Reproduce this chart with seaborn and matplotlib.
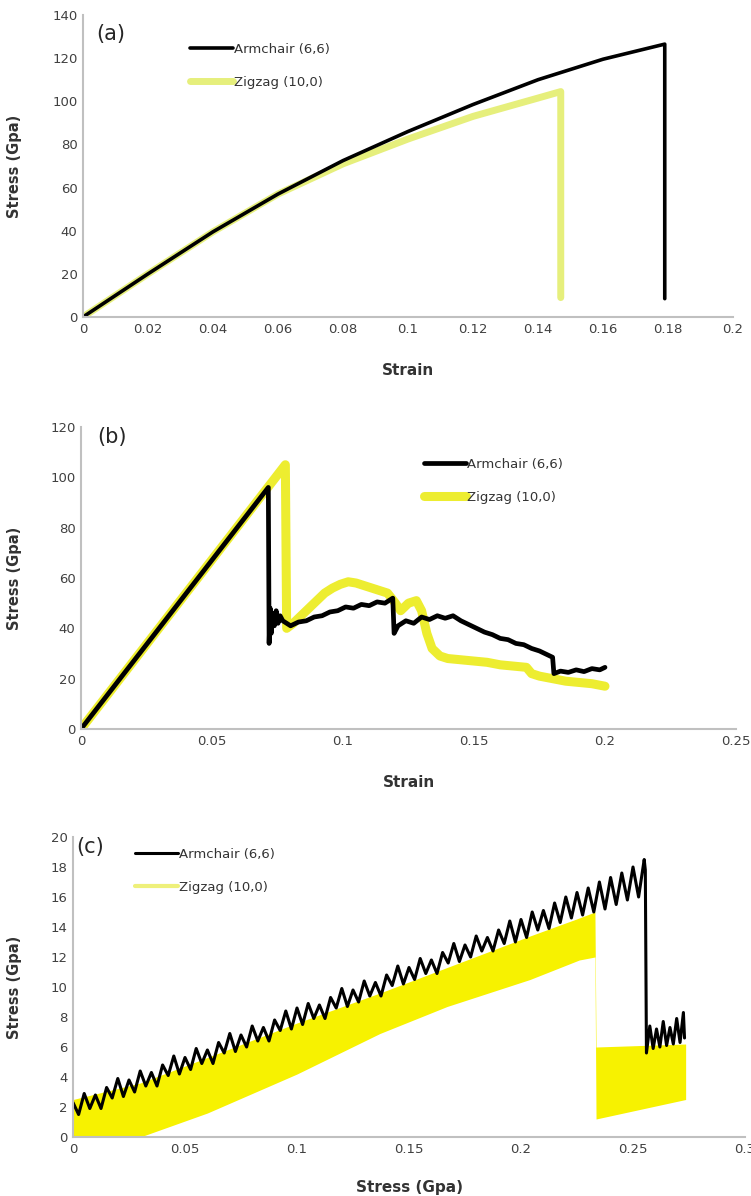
import matplotlib
matplotlib.use('Agg')
import matplotlib.pyplot as plt
import seaborn as sns

sns.set_style('white')
plt.rcParams['font.family'] = ['DejaVu Sans']

# --- data ---
labels = ['Armchair (6,6)', 'Zigzag (10,0)']

# (a) stress-strain, tension
a_arm_x = [0, 0.02, 0.04, 0.06, 0.08, 0.10, 0.12, 0.14, 0.16, 0.179, 0.179]
a_arm_y = [0, 20, 39.5, 57, 72.5, 86, 98.5, 110, 119.5, 126.5, 8.5]
a_zig_x = [0, 0.02, 0.04, 0.06, 0.08, 0.10, 0.12, 0.14, 0.147, 0.147]
a_zig_y = [0, 20, 39.5, 57, 71, 82.5, 93, 101.5, 104.5, 9]

# (b)
b_arm_x = [0, 0.0715, 0.0718, 0.0722, 0.0726, 0.073, 0.0738, 0.0745, 0.0752, 0.076, 0.077,
           0.080, 0.083, 0.086, 0.089, 0.092, 0.095, 0.098, 0.101, 0.104, 0.107, 0.110,
           0.113, 0.116, 0.119, 0.1195, 0.121, 0.124, 0.127, 0.130, 0.133, 0.136, 0.139,
           0.142, 0.145, 0.148, 0.151, 0.154, 0.157, 0.160, 0.163, 0.166, 0.169, 0.172,
           0.175, 0.178, 0.180, 0.1805, 0.183, 0.186, 0.189, 0.192, 0.195, 0.198, 0.200]
b_arm_y = [0, 96, 34, 48, 38, 46, 41, 47, 42, 45, 43,
           41, 42.5, 43, 44.5, 45, 46.5, 47, 48.5, 48, 49.5, 49,
           50.5, 50, 52, 38, 41, 43, 42, 44.5, 43.5, 45, 44,
           45, 43, 41.5, 40, 38.5, 37.5, 36, 35.5, 34, 33.5, 32,
           31, 29.5, 28.5, 22, 23, 22.5, 23.5, 22.8, 24, 23.5, 24.5]
b_zig_x = [0, 0.078, 0.0785, 0.081, 0.084, 0.087, 0.090, 0.093, 0.096, 0.099, 0.102,
           0.105, 0.108, 0.111, 0.114, 0.117, 0.120, 0.122, 0.125, 0.128, 0.130, 0.132,
           0.134, 0.137, 0.140, 0.145, 0.150, 0.155, 0.160, 0.165, 0.170, 0.172, 0.175,
           0.180, 0.185, 0.190, 0.195, 0.200]
b_zig_y = [0, 105, 40, 42, 45, 48, 51, 54, 56, 57.5, 58.5,
           58, 57, 56, 55, 54, 50, 47, 50, 51, 47, 38,
           32, 29, 28, 27.5, 27, 26.5, 25.5, 25, 24.5, 22, 21,
           20, 19, 18.5, 18, 17]

# (c)
c_arm_x = [0.0, 0.0025, 0.005, 0.0075, 0.01, 0.0125, 0.015, 0.0175, 0.02, 0.0225,
           0.025, 0.0275, 0.03, 0.0325, 0.035, 0.0375, 0.04, 0.0425, 0.045, 0.0475,
           0.05, 0.0525, 0.055, 0.0575, 0.06, 0.0625, 0.065, 0.0675, 0.07, 0.0725,
           0.075, 0.0775, 0.08, 0.0825, 0.085, 0.0875, 0.09, 0.0925, 0.095, 0.0975,
           0.1, 0.1025, 0.105, 0.1075, 0.11, 0.1125, 0.115, 0.1175, 0.12, 0.1225,
           0.125, 0.1275, 0.13, 0.1325, 0.135, 0.1375, 0.14, 0.1425, 0.145, 0.1475,
           0.15, 0.1525, 0.155, 0.1575, 0.16, 0.1625, 0.165, 0.1675, 0.17, 0.1725,
           0.175, 0.1775, 0.18, 0.1825, 0.185, 0.1875, 0.19, 0.1925, 0.195, 0.1975,
           0.2, 0.2025, 0.205, 0.2075, 0.21, 0.2125, 0.215, 0.2175, 0.22, 0.2225,
           0.225, 0.2275, 0.23, 0.2325, 0.235, 0.2375, 0.24, 0.2425, 0.245, 0.2475,
           0.25, 0.2525, 0.255, 0.2555, 0.256, 0.2575, 0.259, 0.2605, 0.262, 0.2635,
           0.265, 0.2665, 0.268, 0.2695, 0.271, 0.2725, 0.273]
c_arm_y = [2.3, 1.5, 2.9, 1.9, 2.8, 1.9, 3.3, 2.6, 3.9, 2.7,
           3.8, 3.0, 4.4, 3.4, 4.3, 3.4, 4.8, 4.1, 5.4, 4.2,
           5.3, 4.5, 5.9, 4.9, 5.8, 4.9, 6.3, 5.6, 6.9, 5.7,
           6.8, 6.0, 7.4, 6.4, 7.3, 6.4, 7.8, 7.1, 8.4, 7.2,
           8.6, 7.5, 8.9, 7.9, 8.8, 7.9, 9.3, 8.6, 9.9, 8.7,
           9.8, 9.0, 10.4, 9.4, 10.3, 9.4, 10.8, 10.1, 11.4, 10.2,
           11.3, 10.5, 11.9, 10.9, 11.8, 10.9, 12.3, 11.6, 12.9, 11.7,
           12.8, 12.0, 13.4, 12.4, 13.3, 12.4, 13.8, 12.9, 14.4, 13.0,
           14.5, 13.3, 15.0, 13.8, 15.1, 13.9, 15.6, 14.3, 16.0, 14.6,
           16.3, 14.8, 16.6, 15.0, 17.0, 15.2, 17.3, 15.5, 17.6, 15.8,
           18.0, 16.0, 18.5, 17.8, 5.6, 7.4, 5.9, 7.2, 6.0, 7.7,
           6.1, 7.3, 6.2, 7.9, 6.3, 8.3, 6.6]
c_zig_x = [0, 0.03, 0.06, 0.10, 0.137, 0.167, 0.204, 0.226, 0.233, 0.2335, 0.2735]
c_zig_hi = [2.5, 3.6, 5.3, 7.6, 9.6, 11.3, 13.4, 14.6, 15.0, 6.0, 6.2]
c_zig_lo = [0, 0, 1.6, 4.2, 6.9, 8.7, 10.5, 11.8, 12.0, 1.2, 2.5]

W, H = 751, 1196
fig = plt.figure(figsize=(W / 100, H / 100), dpi=100)


def frac(x0, x1, ytop, ybot):
    return [x0 / W, 1 - ybot / H, (x1 - x0) / W, (ybot - ytop) / H]


def style(ax, xt, xtl, yt, ylabel, xlabel, ylc, xlc):
    ax.set_xticks(xt)
    ax.set_xticklabels(xtl)
    ax.set_yticks(yt)
    ax.set_yticklabels([str(v) for v in yt])
    ax.tick_params(axis='both', length=0, labelsize=9.5, labelcolor='#404040', pad=4)
    for s in ['top', 'right']:
        ax.spines[s].set_visible(False)
    for s in ['left', 'bottom']:
        ax.spines[s].set_color('#c0c0c0')
        ax.spines[s].set_linewidth(1.5)
    ax.set_ylabel(ylabel, fontsize=10.5, fontweight='bold', color='#333333')
    ax.set_xlabel(xlabel, fontsize=11, fontweight='bold', color='#333333')
    ax.yaxis.set_label_coords(ylc, 0.5)
    ax.xaxis.set_label_coords(0.5, xlc)


def leg(ax, anchor, handles=None, texts=None):
    kw = dict(loc='upper left', bbox_to_anchor=anchor, frameon=False, fontsize=9.5,
              handlelength=3.2, handletextpad=0.1, labelspacing=1.5, borderpad=0,
              labelcolor='#333333')
    if handles is None:
        ax.legend(**kw)
    else:
        ax.legend(handles, texts, **kw)


# (a)
ax1 = fig.add_axes(frac(83, 733, 15, 317))
sns.lineplot(x=a_zig_x, y=a_zig_y, ax=ax1, sort=False, estimator=None,
             color='#e6ef7c', lw=5, label=labels[1])
sns.lineplot(x=a_arm_x, y=a_arm_y, ax=ax1, sort=False, estimator=None,
             color='black', lw=2.6, label=labels[0])
ax1.set_xlim(0, 0.2)
ax1.set_ylim(0, 140)
style(ax1, [0, 0.02, 0.04, 0.06, 0.08, 0.1, 0.12, 0.14, 0.16, 0.18, 0.2],
      ['0', '0.02', '0.04', '0.06', '0.08', '0.1', '0.12', '0.14', '0.16', '0.18', '0.2'],
      list(range(0, 141, 20)), 'Stress (Gpa)', 'Strain', -0.094, -0.152)
h, l = ax1.get_legend_handles_labels()
leg(ax1, (0.155, 0.93), h[::-1], l[::-1])
ax1.text(0.02, 0.97, '(a)', transform=ax1.transAxes, fontsize=15, va='top', ha='left')

# (b)
ax2 = fig.add_axes(frac(81, 736, 427, 729))
sns.lineplot(x=b_zig_x, y=b_zig_y, ax=ax2, sort=False, estimator=None,
             color='#eded30', lw=6.5, label=labels[1])
sns.lineplot(x=b_arm_x, y=b_arm_y, ax=ax2, sort=False, estimator=None,
             color='black', lw=3.4, label=labels[0])
ax2.set_xlim(0, 0.25)
ax2.set_ylim(0, 120)
style(ax2, [0, 0.05, 0.1, 0.15, 0.2, 0.25], ['0', '0.05', '0.1', '0.15', '0.2', '0.25'],
      list(range(0, 121, 20)), 'Stress (Gpa)', 'Strain', -0.09, -0.152)
h, l = ax2.get_legend_handles_labels()
leg(ax2, (0.513, 0.92), h[::-1], l[::-1])
ax2.text(0.025, 1.0, '(b)', transform=ax2.transAxes, fontsize=15, va='top', ha='left')

# (c)
ax3 = fig.add_axes(frac(73, 745, 837, 1137))
ax3.fill_between(c_zig_x, c_zig_lo, c_zig_hi, color='#f7f200', lw=0)
sns.lineplot(x=c_arm_x, y=c_arm_y, ax=ax3, sort=False, estimator=None,
             color='black', lw=2.2, label=labels[0])
ax3.plot([], [], color='#eef07a', lw=3, label=labels[1])
ax3.set_xlim(0, 0.3)
ax3.set_ylim(0, 20)
style(ax3, [0, 0.05, 0.1, 0.15, 0.2, 0.25, 0.3], ['0', '0.05', '0.1', '0.15', '0.2', '0.25', '0.3'],
      list(range(0, 21, 2)), 'Stress (Gpa)', 'Stress (Gpa)', -0.076, -0.143)
leg(ax3, (0.083, 0.985))
ax3.text(0.005, 1.0, '(c)', transform=ax3.transAxes, fontsize=15, va='top', ha='left')

fig.savefig('out.png', dpi=100)
